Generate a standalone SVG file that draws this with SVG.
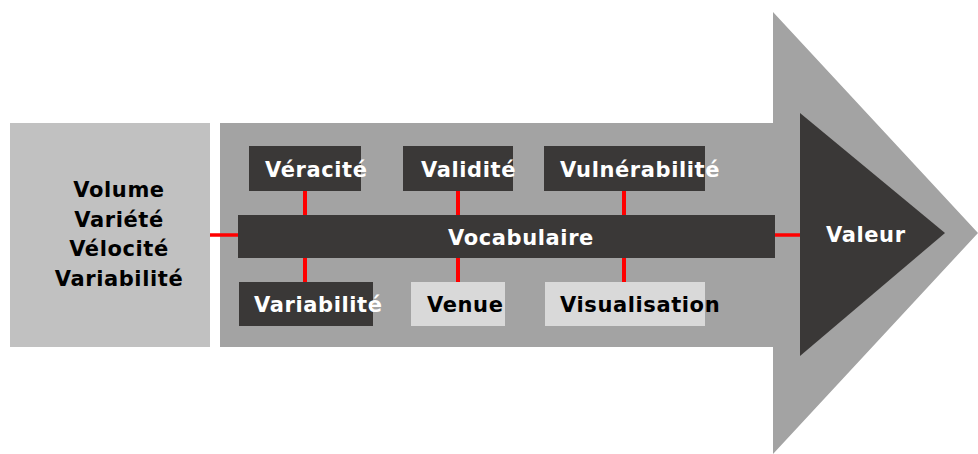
<svg xmlns="http://www.w3.org/2000/svg" width="978" height="454" viewBox="0 0 978 454">
<style>
text{font-family:"DejaVu Sans",Verdana,sans-serif;font-weight:bold;font-size:21px;letter-spacing:0.6px}
.w{fill:#ffffff}
.k{fill:#000000}
.dk{fill:#3a3837}
.lt{fill:#d9d9d9}
.red{stroke:#ff0000;fill:none}
</style>
<rect width="978" height="454" fill="#ffffff"/>
<g id="arrow">
<polygon points="220,123 773,123 773,12 978,233 773,454 773,347 220,347" fill="#a3a3a3"/>
</g>
<g id="inputs">
<rect x="10" y="123" width="200" height="224" fill="#c1c1c1"/>
<text class="k" x="119" y="197" text-anchor="middle">Volume</text>
<text class="k" x="119" y="226.5" text-anchor="middle">Variété</text>
<text class="k" x="119" y="256" text-anchor="middle">Vélocité</text>
<text class="k" x="119" y="285.5" text-anchor="middle">Variabilité</text>
</g>
<g id="connectors" class="red">
<line x1="210" y1="235" x2="238" y2="235" stroke-width="3.5"/>
<line x1="775" y1="235" x2="800" y2="235" stroke-width="3.5"/>
<line x1="305" y1="191" x2="305" y2="215" stroke-width="4"/>
<line x1="458" y1="191" x2="458" y2="215" stroke-width="4"/>
<line x1="624" y1="191" x2="624" y2="215" stroke-width="4"/>
<line x1="305" y1="258" x2="305" y2="282" stroke-width="4"/>
<line x1="458" y1="258" x2="458" y2="282" stroke-width="4"/>
<line x1="624" y1="258" x2="624" y2="282" stroke-width="4"/>
</g>
<g id="vocabulaire">
<rect class="dk" x="238" y="215" width="537" height="43"/>
<text class="w" x="521" y="245" text-anchor="middle">Vocabulaire</text>
</g>
<g id="veracite">
<rect class="dk" x="249" y="146" width="112" height="45"/>
<text class="w" x="265" y="177">Véracité</text>
</g>
<g id="validite">
<rect class="dk" x="403" y="146" width="110" height="45"/>
<text class="w" x="421" y="177">Validité</text>
</g>
<g id="vulnerabilite">
<rect class="dk" x="544" y="146" width="161" height="45"/>
<text class="w" x="560" y="177">Vulnérabilité</text>
</g>
<g id="variabilite">
<rect class="dk" x="239" y="282" width="134" height="44"/>
<text class="w" x="254" y="312">Variabilité</text>
</g>
<g id="venue">
<rect class="lt" x="411" y="282" width="94" height="44"/>
<text class="k" x="427" y="312">Venue</text>
</g>
<g id="visualisation">
<rect class="lt" x="545" y="282" width="160" height="44"/>
<text class="k" x="560" y="312">Visualisation</text>
</g>
<g id="valeur">
<polygon class="dk" points="800,113 945,233 800,356"/>
<text class="w" x="826" y="242">Valeur</text>
</g>
</svg>
